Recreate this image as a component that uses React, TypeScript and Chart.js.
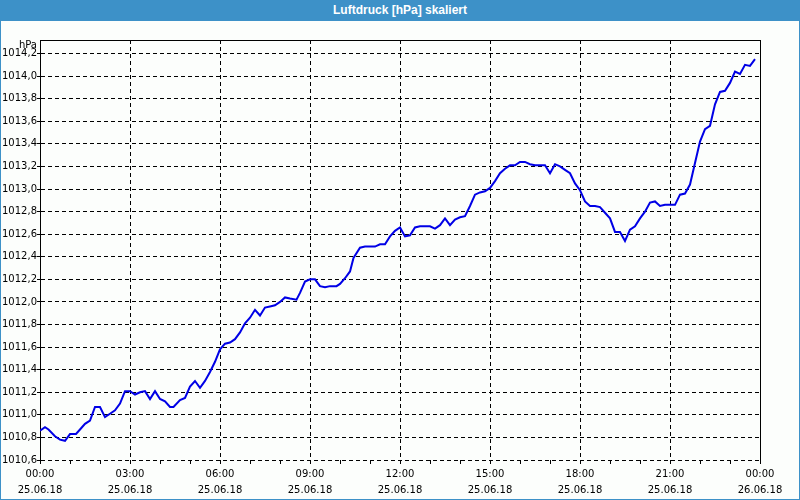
import React, { useEffect, useRef } from "react";
import { Chart, registerables } from "chart.js";

Chart.register(...registerables);

// ---- data ----
const chartTitle = "Luftdruck [hPa] skaliert";
const unitLabel = "hPa";
const startDate = "25.06.18";
const endDate = "26.06.18";

// minutes since 25.06.18 00:00
const minutes = [
  0, 10, 17, 30, 40, 50, 60, 72, 80, 90, 100, 110, 120, 130, 140, 150, 160, 170, 180,
  190, 200, 210, 220, 230, 240, 250, 260, 267, 280, 290, 300, 310, 320, 330, 340, 350, 360,
  370, 380, 390, 400, 410, 420, 430, 440, 450, 460, 470, 480, 490, 500, 513, 520, 530, 540,
  550, 560, 570, 580, 593, 600, 610, 620, 627, 640, 650, 660, 670, 680, 690, 700, 710, 720,
  730, 740, 750, 760, 780, 790, 800, 810, 820, 830, 840, 850, 860, 870, 880, 890, 900,
  910, 920, 930, 940, 950, 960, 970, 980, 990, 1000, 1010, 1020, 1030, 1040, 1050, 1060,
  1070, 1080, 1090, 1100, 1110, 1120, 1130, 1140, 1150, 1160, 1170, 1180, 1190, 1200,
  1210, 1220, 1230, 1240, 1250, 1260, 1270, 1280, 1290, 1300, 1310, 1320, 1330, 1340,
  1350, 1360, 1370, 1380, 1390, 1400, 1410, 1420, 1430,
];

const pressure = [
  1010.86, 1010.89, 1010.87, 1010.81, 1010.78, 1010.77, 1010.83, 1010.83, 1010.87, 1010.92,
  1010.95, 1011.07, 1011.07, 1010.98, 1011.01, 1011.04, 1011.10, 1011.21, 1011.21,
  1011.18, 1011.20, 1011.21, 1011.14, 1011.21, 1011.14, 1011.12, 1011.07, 1011.07, 1011.13,
  1011.15, 1011.25, 1011.30, 1011.24, 1011.30, 1011.38, 1011.47, 1011.58,
  1011.63, 1011.64, 1011.67, 1011.73, 1011.81, 1011.86, 1011.93, 1011.88, 1011.95, 1011.96,
  1011.97, 1012.00, 1012.04, 1012.03, 1012.02, 1012.08, 1012.18, 1012.20,
  1012.20, 1012.14, 1012.13, 1012.14, 1012.14, 1012.16, 1012.21, 1012.27, 1012.39, 1012.48,
  1012.49, 1012.49, 1012.49, 1012.51, 1012.51, 1012.58, 1012.63, 1012.66,
  1012.58, 1012.59, 1012.66, 1012.67, 1012.67, 1012.65, 1012.68, 1012.74, 1012.68, 1012.73,
  1012.75, 1012.76, 1012.85, 1012.95, 1012.97, 1012.98, 1013.01,
  1013.07, 1013.14, 1013.18, 1013.21, 1013.21, 1013.24, 1013.24, 1013.22, 1013.21, 1013.21,
  1013.21, 1013.14, 1013.22, 1013.20, 1013.17, 1013.14,
  1013.05, 1012.99, 1012.89, 1012.85, 1012.85, 1012.84, 1012.79, 1012.74, 1012.62, 1012.62,
  1012.54, 1012.64, 1012.67, 1012.74,
  1012.80, 1012.88, 1012.89, 1012.85, 1012.86, 1012.86, 1012.86, 1012.95, 1012.96, 1013.04,
  1013.23, 1013.42, 1013.53, 1013.56,
  1013.75, 1013.86, 1013.87, 1013.94, 1014.04, 1014.02, 1014.10, 1014.09, 1014.15,
];

// tick values
const xTickMinutes = [
  0, 60, 120, 180, 240, 300, 360, 420, 480, 540, 600, 660, 720, 780, 840, 900, 960,
  1020, 1080, 1140, 1200, 1260, 1320, 1380, 1440,
];
const xLabelEvery = 180;
const yTickValues = [
  1010.6, 1010.8, 1011.0, 1011.2, 1011.4, 1011.6, 1011.8, 1012.0, 1012.2, 1012.4,
  1012.6, 1012.8, 1013.0, 1013.2, 1013.4, 1013.6, 1013.8, 1014.0, 1014.2,
];
const yMin = 1010.6;
const yMax = 1014.32;

const FONT = "'DejaVu Sans', Verdana, sans-serif";
const BLUE = "#3d91c8";

function fmtTime(m: number) {
  const h = Math.floor(m / 60) % 24;
  return (h < 10 ? "0" : "") + h + ":00";
}

const framePlugin = {
  id: "frameAndUnit",
  afterDraw(chart: any) {
    const { ctx, chartArea } = chart;
    ctx.save();
    ctx.strokeStyle = "#000";
    ctx.lineWidth = 1;
    ctx.setLineDash([]);
    ctx.beginPath();
    ctx.moveTo(chartArea.left, chartArea.top + 0.5);
    ctx.lineTo(chartArea.right + 1, chartArea.top + 0.5);
    ctx.moveTo(chartArea.right + 0.5, chartArea.top);
    ctx.lineTo(chartArea.right + 0.5, chartArea.bottom + 1);
    ctx.stroke();
    ctx.fillStyle = "#000";
    ctx.font = "10px " + FONT;
    ctx.textAlign = "right";
    ctx.textBaseline = "middle";
    ctx.fillText(unitLabel, chartArea.left - 3, chartArea.top + 5);
    ctx.restore();
  },
};

export default function App() {
  const canvasRef = useRef<HTMLCanvasElement | null>(null);

  useEffect(() => {
    if (!canvasRef.current) return;
    const data = minutes.map((m, i) => ({ x: m, y: pressure[i] }));
    const chart = new Chart(canvasRef.current, {
      type: "line",
      data: {
        datasets: [
          {
            data,
            borderColor: "#0000e6",
            borderWidth: 2,
            pointRadius: 0,
            tension: 0,
            fill: false,
          },
        ],
      },
      options: {
        animation: false,
        responsive: false,
        maintainAspectRatio: false,
        layout: { padding: { top: 40, right: 40, left: 0, bottom: 0 } },
        plugins: {
          legend: { display: false },
          title: { display: false },
          tooltip: { enabled: false },
        },
        scales: {
          x: {
            type: "linear",
            min: 0,
            max: 1440,
            afterBuildTicks: (s: any) => {
              s.ticks = xTickMinutes.map((value) => ({ value }));
            },
            afterFit: (s: any) => {
              s.height = 40;
            },
            ticks: {
              autoSkip: false,
              maxRotation: 0,
              minRotation: 0,
              padding: 2,
              color: "#000",
              font: { family: FONT, size: 10, lineHeight: 1.6 },
              callback: (v: any) => {
                const m = Number(v);
                if (m % xLabelEvery !== 0) return "";
                return [fmtTime(m), m >= 1440 ? endDate : startDate];
              },
            },
            grid: {
              color: (ctx: any) =>
                ctx.tick && ctx.tick.value % xLabelEvery === 0 ? "#000" : "rgba(0,0,0,0)",
              lineWidth: 1,
              drawOnChartArea: true,
              drawTicks: true,
              tickLength: 4,
              tickColor: "#000",
              tickWidth: 1,
              tickBorderDash: [],
            },
            border: { display: false, dash: [4, 3] },
          },
          y: {
            type: "linear",
            min: yMin,
            max: yMax,
            afterBuildTicks: (s: any) => {
              s.ticks = yTickValues.map((value) => ({ value }));
            },
            afterFit: (s: any) => {
              s.width = 40;
            },
            ticks: {
              padding: 0,
              color: "#000",
              font: { family: FONT, size: 10 },
              callback: (v: any) => Number(v).toFixed(1).replace(".", ","),
            },
            grid: {
              color: "#000",
              lineWidth: 1,
              tickLength: 3,
              tickColor: "#000",
              tickWidth: 1,
              tickBorderDash: [],
            },
            border: { display: true, color: "#000", width: 1, dash: [4, 3] },
          },
        },
      },
      plugins: [framePlugin],
    });
    return () => chart.destroy();
  }, []);

  return (
    <div
      style={{
        position: "fixed",
        left: 0,
        top: 0,
        width: 800,
        height: 500,
        background: "#fcfefc",
        overflow: "hidden",
      }}
    >
      <canvas
        ref={canvasRef}
        width={800}
        height={500}
        style={{ position: "absolute", left: 0, top: 0, width: 800, height: 500 }}
      />
      <div
        style={{
          position: "absolute",
          left: 0,
          top: 0,
          width: 800,
          height: 21,
          background: BLUE,
          color: "#fff",
          fontFamily: "'Liberation Sans', Arial, sans-serif",
          fontWeight: "bold",
          fontSize: 12,
          lineHeight: "20px",
          textAlign: "center",
        }}
      >
        {chartTitle}
      </div>
      <div
        style={{
          position: "absolute",
          left: 0,
          top: 0,
          width: 800,
          height: 500,
          boxSizing: "border-box",
          border: "1px solid " + BLUE,
          pointerEvents: "none",
        }}
      />
    </div>
  );
}
